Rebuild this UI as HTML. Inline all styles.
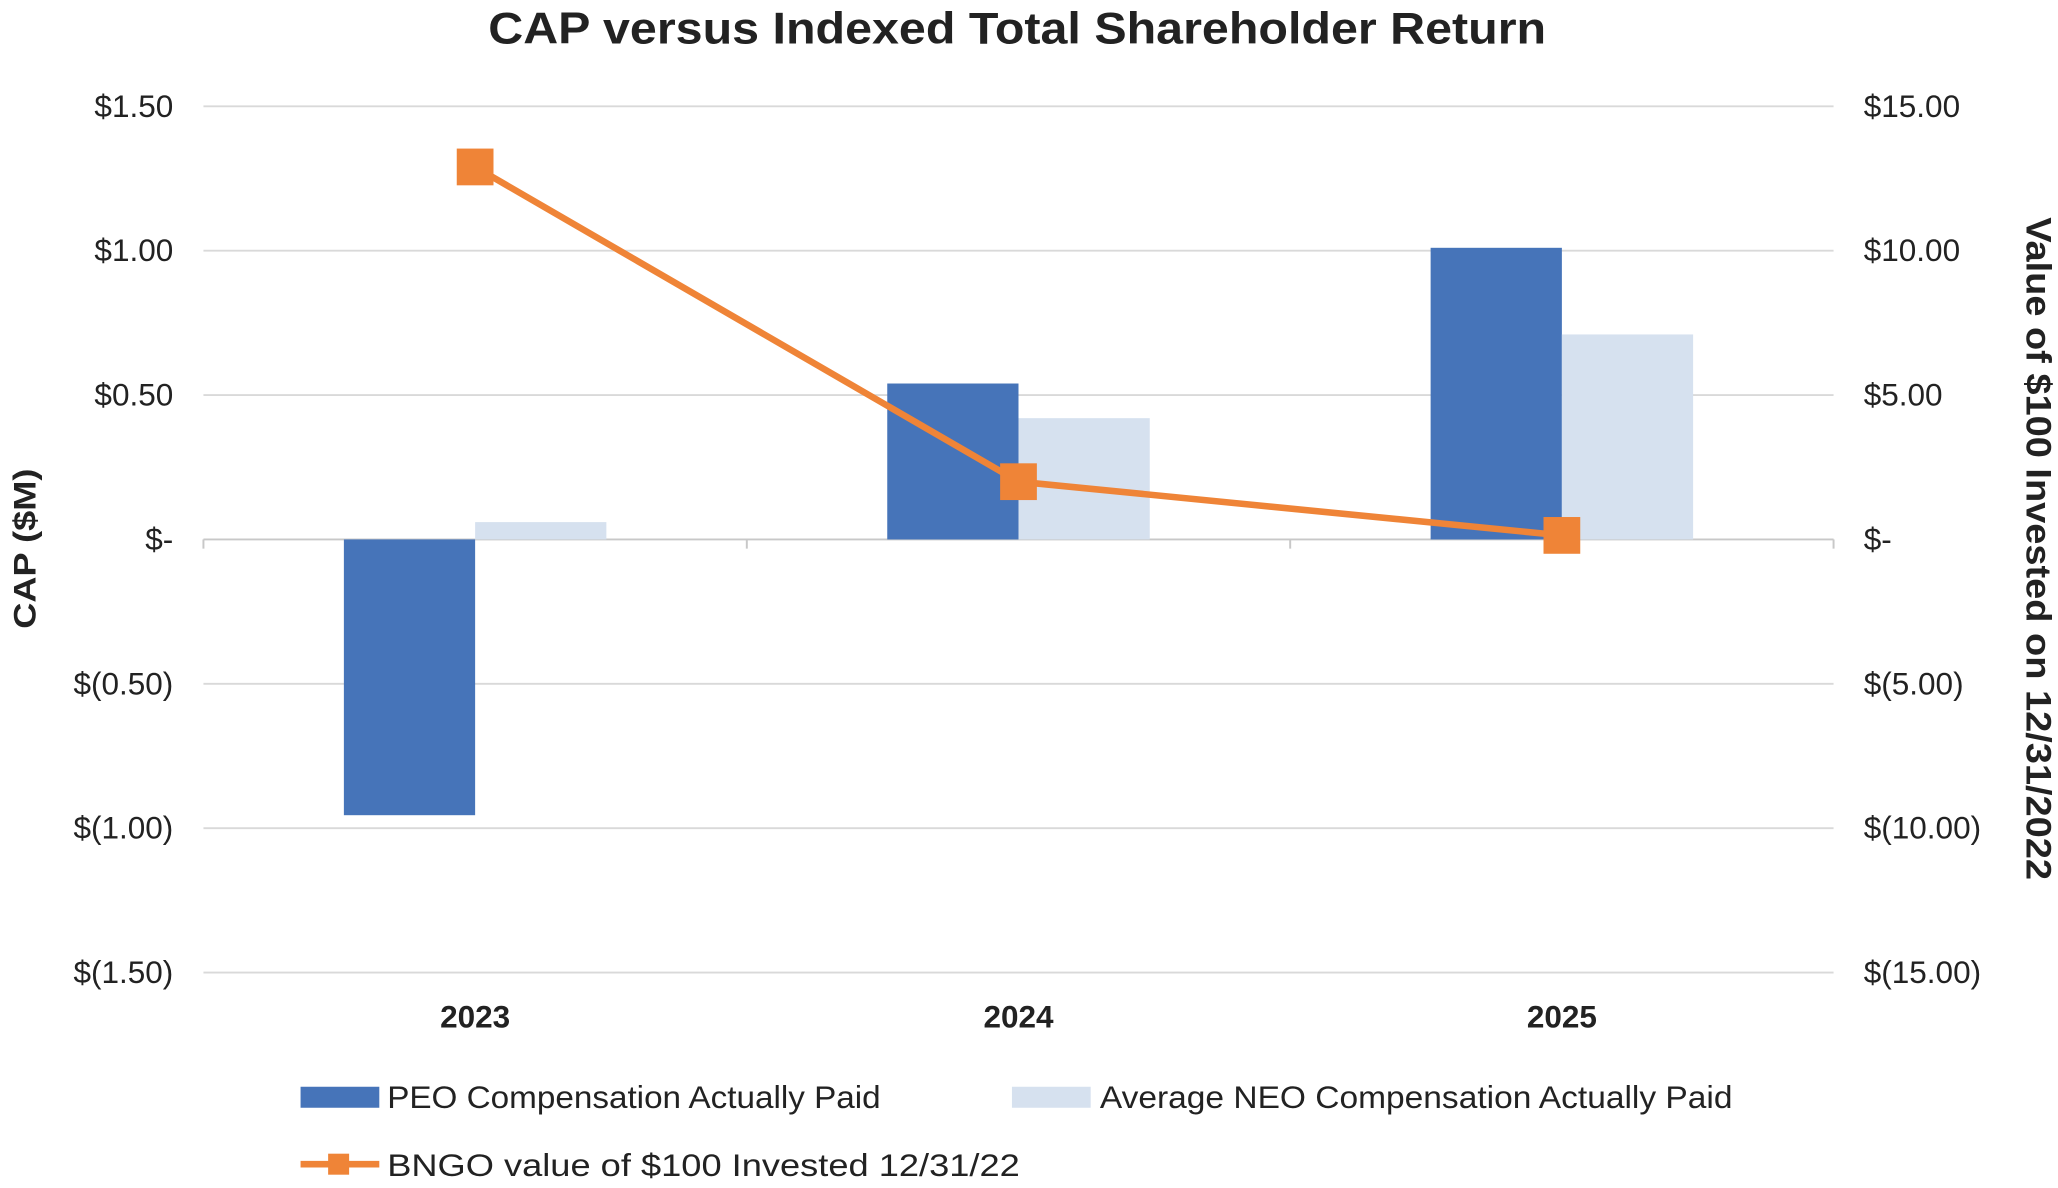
<!DOCTYPE html>
<html><head><meta charset="utf-8"><style>
html,body{margin:0;padding:0;background:#fff;}
svg{display:block;font-family:"Liberation Sans",Arial,sans-serif;}
</style></head><body>
<svg id="chart" width="2058" height="1188" viewBox="0 0 1568 905.14" xmlns="http://www.w3.org/2000/svg">
<text x="775" y="33" text-anchor="middle" font-size="34" font-weight="bold" fill="#222" textLength="806" lengthAdjust="spacingAndGlyphs">CAP versus Indexed Total Shareholder Return</text>
<g id="grid"></g>
<g id="bars"></g>
<g id="line"></g>
<g id="labels"></g>
<text transform="translate(27,418) rotate(-90)" text-anchor="middle" font-size="24" font-weight="bold" fill="#222" textLength="122" lengthAdjust="spacingAndGlyphs">CAP ($M)</text>
<text transform="translate(1544,418) rotate(90)" text-anchor="middle" font-size="27" font-weight="bold" fill="#222" textLength="505" lengthAdjust="spacingAndGlyphs">Value of $100 Invested on 12/31/2022</text>
<g font-size="24" fill="#222">
<rect x="229" y="828" width="60" height="16" fill="#4674b9"/>
<text x="295" y="844" textLength="376" lengthAdjust="spacingAndGlyphs">PEO Compensation Actually Paid</text>
<rect x="771" y="828" width="60" height="16" fill="#d6e1ef"/>
<text x="838" y="844" textLength="482" lengthAdjust="spacingAndGlyphs">Average NEO Compensation Actually Paid</text>
<line x1="229" y1="887" x2="289" y2="887" stroke="#ef8437" stroke-width="5"/>
<rect x="250" y="879" width="16" height="16" fill="#ef8437"/>
<text x="295" y="896" textLength="482" lengthAdjust="spacingAndGlyphs">BNGO value of $100 Invested 12/31/22</text>
</g>
</svg>
<script>
const categories = ["2023","2024","2025"];
const peoValues = [-0.955, 0.54, 1.01];
const neoValues = [0.06, 0.42, 0.71];
const tsrValues = [12.9, 2.0, 0.14];
const leftTicks = [1.5,1.0,0.5,0,-0.5,-1.0,-1.5];
const leftTickLabels = ["$1.50","$1.00","$0.50","$-","$(0.50)","$(1.00)","$(1.50)"];
const rightTickLabels = ["$15.00","$10.00","$5.00","$-","$(5.00)","$(10.00)","$(15.00)"];

const NS="http://www.w3.org/2000/svg";
const x0=155,x1=1397;
const yL=v=>411-v*220;
const yR=v=>411-v*22;
const cw=(x1-x0)/categories.length;
const xc=i=>x0+cw*(i+0.5);
function mk(tag,attrs,parent){const e=document.createElementNS(NS,tag);for(const k in attrs)e.setAttribute(k,attrs[k]);parent.appendChild(e);return e;}
const grid=document.getElementById('grid'),bars=document.getElementById('bars'),line=document.getElementById('line'),labels=document.getElementById('labels');
leftTicks.forEach((t,i)=>{
  const y=yL(t);
  const g=mk('line',{x1:x0,x2:x1,y1:y,y2:y,stroke:t===0?'#c8c8c8':'#d9d9d9','stroke-width':1.5},grid);
  
  
  const a=mk('text',{x:132,y:y+8,'text-anchor':'end','font-size':24,fill:'#222'},labels);
  a.textContent=leftTickLabels[i];
  
  
  const b=mk('text',{x:1420,y:y+8,'font-size':24,fill:'#222'},labels);
  b.textContent=rightTickLabels[i];
  
  
});
for(let i=0;i<=categories.length;i++){
  const x=x0+cw*i;
  const t=mk('line',{x1:x,x2:x,y1:411,y2:418,stroke:'#c8c8c8','stroke-width':1.5},grid);
  
  
}
const bw=100;
categories.forEach((c,i)=>{
  const cx=xc(i);
  const p=peoValues[i],n=neoValues[i];
  const r1=mk('rect',{x:cx-bw,y:Math.min(yL(p),yL(0)),width:bw,height:Math.abs(yL(p)-yL(0)),fill:'#4674b9'},bars);
  
  
  const r2=mk('rect',{x:cx,y:Math.min(yL(n),yL(0)),width:bw,height:Math.abs(yL(n)-yL(0)),fill:'#d6e1ef'},bars);
  
  
  const l=mk('text',{x:cx,y:783,'text-anchor':'middle','font-size':24,'font-weight':'bold',fill:'#222'},labels);
  l.textContent=c;
  
  
});
const pts=tsrValues.map((v,i)=>xc(i)+','+yR(v)).join(' ');
const pl=mk('polyline',{points:pts,fill:'none',stroke:'#ef8437','stroke-width':5,'stroke-linejoin':'round'},line);


tsrValues.forEach((v,i)=>{
  const m=mk('rect',{x:xc(i)-14,y:yR(v)-14,width:28,height:28,fill:'#ef8437'},line);
  
  
});
</script>
</body></html>
